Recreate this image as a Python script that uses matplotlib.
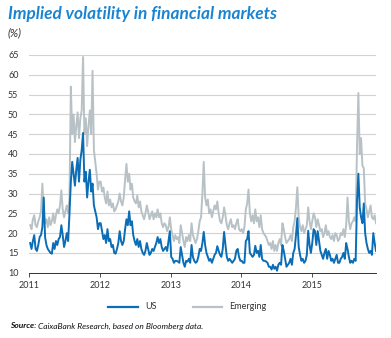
import numpy as np
import pandas as pd
import matplotlib
matplotlib.use("Agg")
import matplotlib.pyplot as plt
import matplotlib.dates as mdates

# Weekly implied volatility (%), Friday closes, Jan 2011 - Nov 2015
us_2011 = [17.5, 16.0, 18.0, 19.5,
           16.0, 15.5, 17.0, 19.0,
           19.5, 21.5, 29.0, 19.0,
           17.0, 16.0, 15.5, 15.0, 14.8,
           17.5, 16.0, 18.0, 17.0,
           18.5, 19.0, 22.0, 19.5,
           16.5, 18.0, 20.0, 18.0, 25.0,
           33.0, 38.0, 35.0, 32.0,
           36.0, 39.0, 33.0, 38.5, 41.0,
           45.3, 33.0, 35.5, 29.0,
           33.0, 36.0, 30.5, 32.5,
           27.0, 25.5, 24.0, 21.0, 22.5]
us_2012 = [22.5, 20.5, 18.5, 19.5,
           17.5, 21.0, 18.0, 18.5,
           16.5, 17.0, 15.0, 14.8, 16.0,
           17.5, 20.5, 18.0, 17.0,
           18.0, 21.0, 23.5, 22.0,
           25.5, 22.0, 23.0, 19.5, 18.0,
           17.0, 18.5, 16.5, 18.0,
           16.0, 15.0, 14.5, 15.5, 17.5,
           16.0, 14.5, 15.0, 16.0,
           15.5, 16.5, 17.5, 19.0,
           17.5, 18.5, 16.5, 15.5, 16.0,
           16.5, 15.5, 18.0, 20.5]
us_2013 = [14.0, 13.5, 12.5, 13.0,
           13.0, 12.8, 12.5, 16.5,
           14.5, 12.5, 11.5, 13.0, 12.8,
           13.5, 12.5, 17.0, 14.0,
           13.0, 12.5, 12.8, 14.0, 16.0,
           15.5, 17.5, 20.3, 17.0,
           15.0, 14.0, 13.0, 13.5,
           12.5, 13.5, 14.5, 15.0, 16.7,
           15.5, 14.5, 14.0, 16.0,
           20.3, 17.0, 14.0, 13.0,
           13.5, 13.0, 12.5, 13.0, 13.5,
           15.5, 16.0, 14.0, 13.0]
us_2014 = [13.0, 12.5, 12.5, 18.0, 18.5,
           20.5, 15.0, 14.5, 14.0,
           14.5, 16.8, 15.0, 15.5,
           14.0, 17.0, 13.5, 13.0,
           13.0, 12.8, 12.5, 11.5, 11.5,
           10.8, 12.0, 11.0, 11.5,
           10.5, 12.0, 12.5, 12.0,
           17.0, 15.5, 13.5, 11.5, 12.0,
           12.5, 13.5, 12.0, 15.0,
           16.0, 19.5, 23.8, 16.5, 14.5,
           13.0, 13.5, 12.5, 13.0,
           14.5, 20.6, 17.0, 15.0]
us_2015 = [17.5, 21.0, 20.5, 17.0, 20.5,
           18.0, 15.5, 14.5, 13.5,
           15.0, 16.0, 13.5, 15.5,
           14.5, 13.0, 13.5, 12.5,
           13.5, 14.5, 12.5, 12.5, 13.5,
           14.0, 15.0, 13.5, 17.5,
           16.0, 14.0, 12.5, 13.0, 12.5,
           13.5, 13.0, 28.0, 35.0,
           26.5, 24.0, 22.5, 27.5,
           20.0, 17.5, 16.0, 15.0, 15.5,
           14.5, 20.0, 17.5, 15.5]

em_2011 = [22.0, 21.0, 23.5, 24.5,
           22.0, 21.5, 23.0, 24.0,
           25.5, 32.5, 25.0, 22.5,
           23.5, 21.5, 24.0, 22.0, 23.0,
           25.0, 22.5, 24.5, 26.0,
           25.0, 27.0, 30.8, 26.0,
           24.0, 25.5, 27.0, 25.0, 29.0,
           57.0, 45.0, 50.0, 43.0,
           47.0, 50.5, 44.0, 49.0, 51.0,
           64.5, 45.0, 49.0, 42.0,
           47.0, 51.0, 45.0, 61.0,
           41.0, 38.0, 35.0, 31.0, 33.0]
em_2012 = [33.0, 30.5, 31.5, 29.0,
           27.5, 30.5, 27.0, 28.5,
           26.5, 27.5, 25.5, 26.0, 27.0,
           28.0, 30.0, 28.0, 27.0,
           29.0, 33.5, 37.5, 33.0,
           35.0, 31.0, 32.5, 29.0, 28.0,
           27.5, 29.5, 26.5, 28.0,
           25.5, 24.5, 23.5, 25.0, 27.0,
           25.5, 23.5, 24.5, 25.5,
           23.5, 25.0, 24.0, 26.0,
           24.0, 25.0, 22.5, 21.5, 22.5,
           22.0, 20.5, 21.5, 24.0]
em_2013 = [21.0, 19.5, 18.0, 19.5,
           18.5, 19.0, 17.5, 22.0,
           20.0, 18.0, 16.5, 19.0, 18.0,
           19.5, 18.0, 22.5, 19.5,
           18.5, 17.5, 18.5, 20.5, 23.0,
           24.0, 30.0, 38.0, 29.0,
           27.0, 28.5, 25.0, 26.0,
           24.0, 25.5, 27.0, 26.0, 28.0,
           25.0, 23.0, 22.5, 24.0,
           26.5, 24.5, 22.0, 21.0,
           22.5, 23.5, 21.5, 22.0, 21.0,
           22.5, 23.5, 21.0, 20.5]
em_2014 = [21.0, 20.0, 21.5, 26.0, 27.5,
           31.0, 25.0, 23.0, 24.5,
           22.5, 26.0, 23.0, 24.0,
           21.5, 24.5, 21.0, 20.0,
           19.5, 19.0, 18.0, 17.0, 17.5,
           16.0, 18.0, 15.5, 17.0,
           15.5, 17.5, 18.5, 17.0,
           22.5, 21.0, 19.0, 17.5, 18.0,
           18.5, 19.5, 18.0, 21.5,
           23.0, 26.5, 31.6, 24.0, 21.5,
           20.5, 22.0, 20.0, 21.0,
           22.0, 26.5, 23.0, 21.0]
em_2015 = [23.0, 25.0, 24.0, 21.5, 23.5,
           22.0, 20.5, 21.0, 19.0,
           20.0, 22.0, 19.5, 20.5,
           19.0, 18.5, 19.5, 18.0,
           20.0, 19.5, 18.0, 18.5, 20.0,
           19.5, 21.0, 19.0, 22.0,
           29.0, 23.0, 21.0, 22.5, 23.0,
           24.0, 23.0, 42.0, 55.4,
           40.0, 44.0, 37.0, 36.4,
           27.5, 26.0, 24.0, 25.5, 27.0,
           24.0, 23.5, 24.5, 22.5]

us = us_2011 + us_2012 + us_2013 + us_2014 + us_2015
emerging = em_2011 + em_2012 + em_2013 + em_2014 + em_2015
dates = pd.date_range("2011-01-07", periods=len(us), freq="W-FRI")

year_labels = ["2011", "2012", "2013", "2014", "2015"]
y_ticks = list(range(10, 70, 5))

BLUE = "#0b6db5"
GREY = "#b8c2c6"
TITLE_BLUE = "#1a84d0"
TEXT = "#333333"
FONT = ["Lato", "DejaVu Sans"]

plt.rcParams["font.family"] = FONT

fig = plt.figure(figsize=(3.91, 3.38), dpi=100)
ax = fig.add_axes([29 / 391, 1 - 272.7 / 338, 347 / 391, 217.7 / 338])

ax.plot(dates, emerging, color=GREY, lw=1.4, solid_joinstyle="round", label="Emerging")
ax.plot(dates, us, color=BLUE, lw=1.4, solid_joinstyle="round", label="US")

ax.set_ylim(10, 65)
ax.set_xlim(pd.Timestamp("2011-01-01"), dates[-1])
ax.set_yticks(y_ticks)
ax.yaxis.grid(True, color="#d2d2d2", lw=0.8)
ax.set_axisbelow(True)
ax.tick_params(axis="y", length=0, labelsize=6.5, colors=TEXT, pad=0)
for lbl in ax.get_yticklabels():
    lbl.set_horizontalalignment("left")
    lbl.set_x(-21 / 347)

ax.set_xticks([pd.Timestamp(y + "-01-01") for y in year_labels])
ax.set_xticklabels(year_labels)
ax.tick_params(axis="x", length=3, width=0.6, color=TEXT, labelsize=6.5,
               labelcolor=TEXT, pad=3)

for side in ["top", "right", "left"]:
    ax.spines[side].set_visible(False)
ax.spines["bottom"].set_color(TEXT)
ax.spines["bottom"].set_linewidth(0.7)

fig.text(8 / 391, 1 - 14 / 338, "Implied volatility in financial markets",
         color=TITLE_BLUE, fontsize=12.4, fontweight="bold", style="italic",
         va="center", ha="left")
fig.text(8 / 391, 1 - 33 / 338, "(%)", color=TEXT, fontsize=8, style="italic",
         va="center", ha="left")

# legend drawn by hand so the keys sit where the report puts them
ly = 1 - 306.5 / 338
fig.add_artist(plt.Line2D([108 / 391, 138 / 391], [ly, ly], color=BLUE, lw=1.6))
fig.text(145 / 391, ly, "US", color=TEXT, fontsize=6.5, va="center")
fig.add_artist(plt.Line2D([193 / 391, 222 / 391], [ly, ly], color=GREY, lw=1.6))
fig.text(229 / 391, ly, "Emerging", color=TEXT, fontsize=6.5, va="center")

src = fig.text(10 / 391, 1 - 326 / 338, "Source:", color="#111111", fontsize=6,
               fontweight="bold", style="italic", va="center")
renderer = fig.canvas.get_renderer()
bb = src.get_window_extent(renderer)
fig.text(bb.x1 / fig.bbox.width + 2 / 391, 1 - 326 / 338,
         "CaixaBank Research, based on Bloomberg data.", color="#111111",
         fontsize=6, style="italic", va="center")

fig.savefig("out.png", dpi=100)
